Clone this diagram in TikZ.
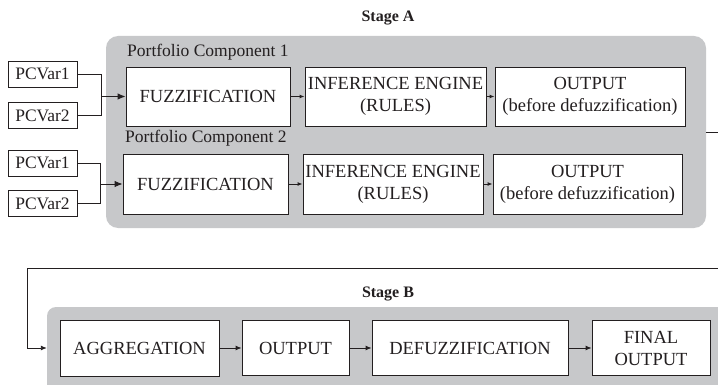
\documentclass[tikz,border=0pt]{standalone}
\usepackage{fontspec}
\setmainfont{Liberation Serif}
\usetikzlibrary{arrows.meta}

\definecolor{panelgray}{RGB}{199,200,202}
\definecolor{ink}{RGB}{35,31,32}

\tikzset{
  panel/.style={fill=panelgray, draw=none, inner sep=0pt},
  block/.style={draw=ink, fill=white, line width=0.9pt, inner sep=0pt,
                align=center, text=ink, font=\fontsize{18.5}{22}\selectfont},
  varbox/.style={draw=ink, fill=white, line width=0.9pt, inner sep=0pt,
                 minimum width=69pt, minimum height=26pt, text=ink,
                 font=\fontsize{17.5}{20}\selectfont},
  caption/.style={anchor=base west, inner sep=0pt, text=ink,
                  font=\fontsize{17.5}{20}\selectfont},
  stagelabel/.style={anchor=base, inner sep=0pt, text=ink,
                     font=\fontsize{16}{18}\selectfont\bfseries},
  wire/.style={draw=ink, line width=0.9pt},
  bigarrow/.style={wire, -{Latex[length=8pt,width=6.5pt]}},
  smallarrow/.style={wire, -{Latex[length=5pt,width=4pt]}},
  midarrow/.style={wire, -{Latex[length=6pt,width=5pt]}},
}

\begin{document}
\begin{tikzpicture}[x=1pt,y=-1pt]
  \useasboundingbox (0,0) rectangle (718,385);
  \clip (0,0) rectangle (718,385);

  % ---------------- Stage A ----------------
  \node[stagelabel] (stageA) at (388,22) {Stage A};
  \node[panel, rounded corners=12pt, minimum width=600pt, minimum height=192pt]
       (panelA) at (406,132) {};

  \node[caption] (pc1) at (127,57) {Portfolio Component 1};
  \node[caption] (pc2) at (125,143) {Portfolio Component 2};

  % component 1
  \node[block, minimum width=164pt, minimum height=59pt] (fuzz1) at (208,96.5) {FUZZIFICATION};
  \node[block, minimum width=181pt, minimum height=59pt] (inf1) at (395.5,96.5) {INFERENCE ENGINE\\(RULES)};
  \node[block, minimum width=190pt, minimum height=59pt] (out1) at (590,96.5) {OUTPUT\\(before defuzzification)};

  % component 2
  \node[block, minimum width=165pt, minimum height=60pt] (fuzz2) at (205.5,184) {FUZZIFICATION};
  \node[block, minimum width=180pt, minimum height=60pt] (inf2) at (393,184) {INFERENCE ENGINE\\(RULES)};
  \node[block, minimum width=189pt, minimum height=60pt] (out2) at (587.5,184) {OUTPUT\\(before defuzzification)};

  % input variables
  \node[varbox] (v11) at (42.5,74) {PCVar1};
  \node[varbox] (v12) at (42.5,115.5) {PCVar2};
  \node[varbox] (v21) at (42.5,163) {PCVar1};
  \node[varbox] (v22) at (42.5,203.5) {PCVar2};

  \coordinate (j1) at (101,96.5);
  \coordinate (j2) at (100,184);

  \draw[wire] (v11.east) -- (v11.east -| j1) -- (j1);
  \draw[wire] (v12.east) -- (v12.east -| j1) -- (j1);
  \draw[bigarrow] (j1) -- (fuzz1.west);
  \draw[wire] (v21.east) -- (v21.east -| j2) -- (j2);
  \draw[wire] (v22.east) -- (v22.east -| j2) -- (j2);
  \draw[bigarrow] (j2) -- (fuzz2.west);

  \draw[smallarrow] (fuzz1.east) -- (inf1.west);
  \draw[smallarrow] (inf1.east) -- (out1.west);
  \draw[smallarrow] (fuzz2.east) -- (inf2.west);
  \draw[smallarrow] (inf2.east) -- (out2.west);

  % ---------------- Stage B ----------------
  \node[stagelabel] (stageB) at (388,297) {Stage B};
  \node[panel, rounded corners=9pt, minimum width=713pt, minimum height=113pt]
       (panelB) at (403.5,363.5) {};

  \node[block, minimum width=159pt, minimum height=56pt] (agg) at (139.5,348) {AGGREGATION};
  \node[block, minimum width=107pt, minimum height=55pt] (outB) at (295.5,348) {OUTPUT};
  \node[block, minimum width=196pt, minimum height=55pt] (defz) at (470,348) {DEFUZZIFICATION};
  \node[block, minimum width=118pt, minimum height=55pt] (final) at (651,348) {FINAL\\OUTPUT};

  \draw[midarrow] (agg.east) -- (outB.west);
  \draw[midarrow] (outB.east) -- (defz.west);
  \draw[midarrow] (defz.east) -- (final.west);

  % feedback from Stage A into Stage B
  \coordinate (turnR) at (735,200);
  \coordinate (turnL) at (27,268);
  \draw[midarrow] (panelA.east) -- (panelA.east -| turnR) -- (turnR |- turnL)
        -- (turnL) -- (turnL |- agg.west) -- (panelB.west |- agg.west);
\end{tikzpicture}
\end{document}
